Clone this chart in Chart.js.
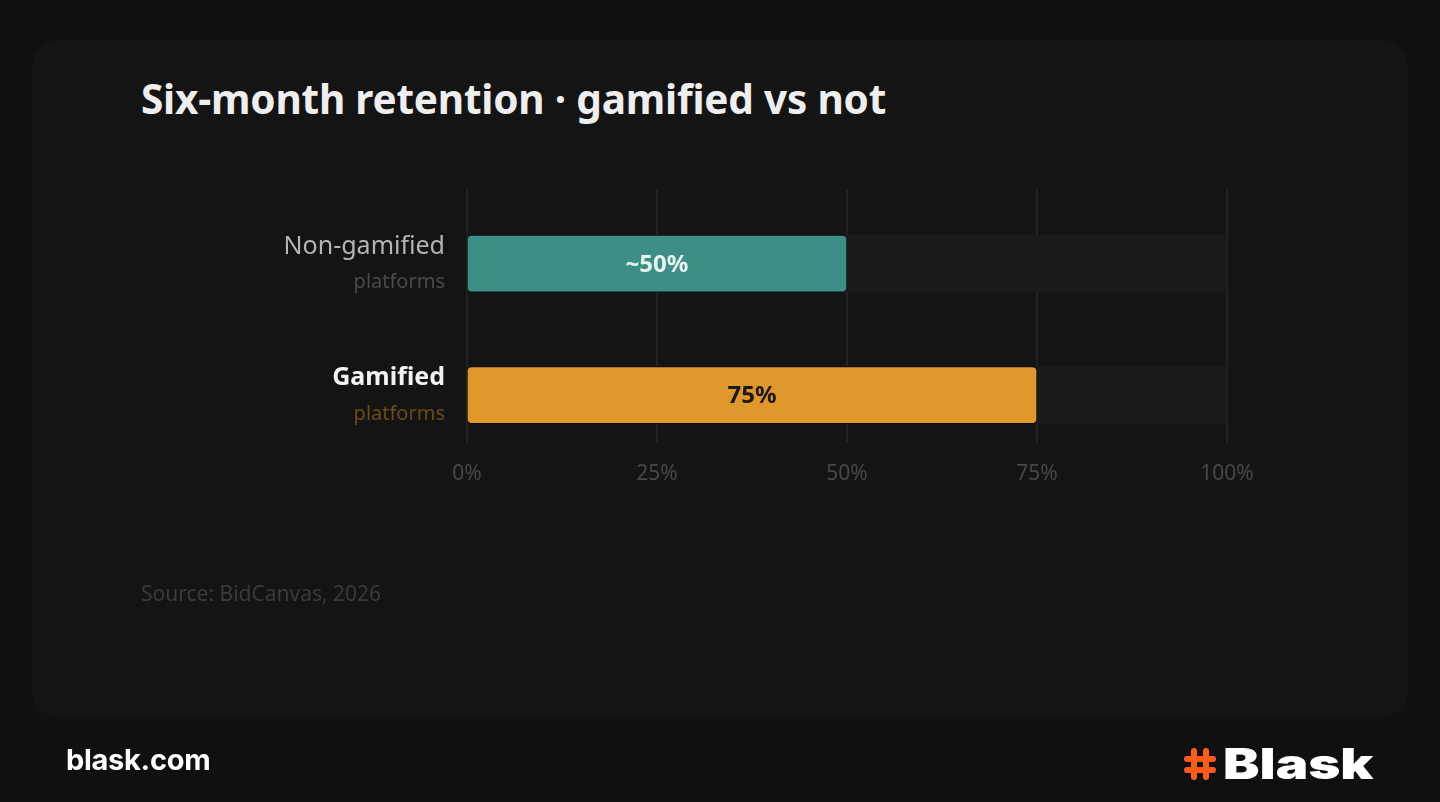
<!DOCTYPE html>
<html>
<head>
<meta charset="utf-8">
<script src="https://cdn.jsdelivr.net/npm/chart.js@4.4.1/dist/chart.umd.min.js"></script>
<style>
  html, body { margin: 0; padding: 0; background: #101010; width: 1440px; height: 802px; overflow: hidden; }
  #card { position: absolute; left: 32px; top: 40px; width: 1376px; height: 678px; background: #141414; border-radius: 28px; }
  #title { position: absolute; left: 141px; top: 75px; margin: 0; font: 700 40.5px "Noto Sans", sans-serif; color: #eeeeee; letter-spacing: -0.2px; line-height: 1.2; }
  #source { position: absolute; left: 141px; top: 579px; font: 400 21px "Noto Sans", sans-serif; color: #3a3a3a; }
  #chartBox { position: absolute; left: 0; top: 0; width: 1440px; height: 802px; }
  #site { position: absolute; left: 66px; top: 742px; font: 700 29px "Inter", sans-serif; color: #ffffff; letter-spacing: -0.3px; }
  #logo { position: absolute; left: 1183px; top: 738px; display: flex; align-items: center; }
  #logo span { display: inline-block; font: 900 42px "Inter", sans-serif; color: #ffffff; margin-left: 6px; transform: scaleX(1.3); transform-origin: left center; }
</style>
</head>
<body>
<div id="card"></div>
<h1 id="title">Six-month retention · gamified vs not</h1>
<div id="chartBox"><canvas id="grafico"></canvas></div>
<div id="source">Source: BidCanvas, 2026</div>
<div id="site">blask.com</div>
<div id="logo">
  <svg width="34" height="34" viewBox="0 0 34 34">
    <g stroke="#ff5a1a" stroke-width="6" stroke-linecap="round" fill="none">
      <line x1="11" y1="4" x2="11" y2="30"/>
      <line x1="23" y1="4" x2="23" y2="30"/>
      <line x1="4" y1="12" x2="30" y2="12"/>
      <line x1="4" y1="23" x2="30" y2="23"/>
    </g>
  </svg>
  <span>Blask</span>
</div>
<script>
//////////////////////////////// Dati del grafico ////////////////////////////////
const categorie = ["Non-gamified", "Gamified"];
const sottotitoli = ["platforms", "platforms"];
const valori = [50, 75];
const etichetteValori = ["~50%", "75%"];
const binario = [100, 100];
const tickX = [0, 25, 50, 75, 100];

const coloriBarre = ["#3d8e87", "#e0972c"];
const coloriTestoBarre = ["#e8f3f0", "#1a1a1a"];
const coloriNomi = ["#b4b4b4", "#f2f2f2"];
const pesiNomi = ["400", "700"];
const coloriSotto = ["#4a4a4a", "#6a4c16"];

//////////////////////////////// Plugin ////////////////////////////////
// griglia verticale disegnata a mano per allungarla oltre l'area delle barre
const grigliaVerticale = {
    id: "grigliaVerticale",
    beforeDatasetsDraw(chart) {
        const ctx = chart.ctx;
        const x = chart.scales.x;
        const area = chart.chartArea;
        ctx.save();
        ctx.strokeStyle = "#222222";
        ctx.lineWidth = 2;
        tickX.forEach(function (t) {
            const px = Math.round(x.getPixelForValue(t));
            ctx.beginPath();
            ctx.moveTo(px, area.top - 8);
            ctx.lineTo(px, area.bottom - 18);
            ctx.stroke();
        });
        ctx.restore();
    }
};

const etichetteAsse = {
    id: "etichetteAsse",
    afterDraw(chart) {
        const ctx = chart.ctx;
        const y = chart.scales.y;
        const xRight = chart.chartArea.left - 22;
        ctx.save();
        ctx.textAlign = "right";
        ctx.textBaseline = "middle";
        categorie.forEach(function (nome, i) {
            const cy = y.getPixelForValue(i);
            ctx.font = pesiNomi[i] + " 25px 'Noto Sans', sans-serif";
            ctx.fillStyle = coloriNomi[i];
            ctx.fillText(nome, xRight, cy - 17);
            ctx.font = "400 20px 'Noto Sans', sans-serif";
            ctx.fillStyle = coloriSotto[i];
            ctx.fillText(sottotitoli[i], xRight, cy + 19);
        });
        ctx.restore();
    }
};

const valoriInBarra = {
    id: "valoriInBarra",
    afterDatasetsDraw(chart) {
        const ctx = chart.ctx;
        const meta = chart.getDatasetMeta(0);
        ctx.save();
        ctx.textAlign = "center";
        ctx.textBaseline = "middle";
        ctx.font = "700 24px 'Noto Sans', sans-serif";
        meta.data.forEach(function (bar, i) {
            ctx.fillStyle = coloriTestoBarre[i];
            ctx.fillText(etichetteValori[i], (bar.x + bar.base) / 2, bar.y + 1);
        });
        ctx.restore();
    }
};

//////////////////////////////// Grafico ////////////////////////////////
const canvas = document.getElementById("grafico");
const grafico = new Chart(canvas, {
    type: "bar",
    data: {
        labels: categorie,
        datasets: [
            {
                data: valori,
                backgroundColor: coloriBarre,
                borderColor: "#0e0e0e",
                borderWidth: 1,
                borderSkipped: false,
                borderRadius: 5,
                barThickness: 57,
                grouped: false,
                order: 0
            },
            {
                data: binario,
                backgroundColor: "#1b1b1b",
                borderWidth: 0,
                borderRadius: 2,
                barThickness: 57,
                grouped: false,
                order: 1
            }
        ]
    },
    plugins: [grigliaVerticale, etichetteAsse, valoriInBarra],
    options: {
        indexAxis: "y",
        responsive: true,
        maintainAspectRatio: false,
        animation: false,
        layout: {
            padding: { left: 467, right: 213, top: 198, bottom: 314 }
        },
        plugins: {
            legend: { display: false },
            tooltip: { enabled: false }
        },
        scales: {
            y: {
                display: false
            },
            x: {
                min: 0,
                max: 100,
                afterBuildTicks(scale) {
                    scale.ticks = tickX.map(function (v) { return { value: v }; });
                },
                grid: { display: false, drawTicks: false },
                border: { display: false },
                ticks: {
                    padding: 1,
                    color: "#474747",
                    font: { family: "'Noto Sans', sans-serif", size: 21 },
                    callback: function (v) { return v + "%"; }
                }
            }
        }
    }
});
</script>
</body>
</html>
